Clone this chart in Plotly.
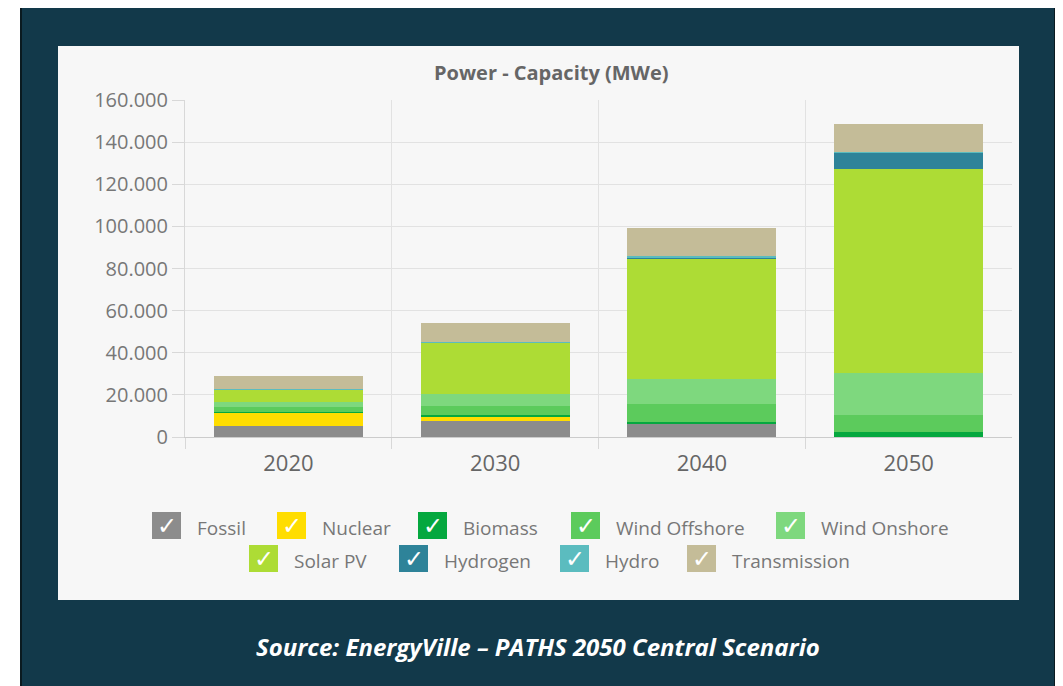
import plotly.graph_objects as go

years = ["2020", "2030", "2040", "2050"]
series_names = ["Fossil", "Nuclear", "Biomass", "Wind Offshore", "Wind Onshore",
                "Solar PV", "Hydrogen", "Hydro", "Transmission"]
fossil = [5400, 7600, 6200, 0]
nuclear = [6000, 2000, 0, 0]
biomass = [500, 800, 1100, 2200]
wind_offshore = [2200, 4300, 8200, 8200]
wind_onshore = [2700, 5600, 12000, 19800]
solar_pv = [5700, 24700, 56900, 96900]
hydrogen = [0, 0, 1000, 8100]
hydro = [100, 100, 600, 100]
transmission = [6600, 9000, 13000, 13300]
series_values = [fossil, nuclear, biomass, wind_offshore, wind_onshore,
                 solar_pv, hydrogen, hydro, transmission]
colors = ["#8c8c8c", "#ffdd00", "#05a83f", "#5ccb5c", "#7ed87e",
          "#addc35", "#2e8399", "#5bbcbf", "#c4bc98"]
y_ticks = [0, 20000, 40000, 60000, 80000, 100000, 120000, 140000, 160000]

x_pos = list(range(len(years)))
boundaries = [i - 0.5 for i in x_pos]

# layout geometry (pixels); page body adds an 8px offset
OFF = 8
IMG_W, IMG_H = 1063, 686
PW, PH = 827, 337
L = 185 - OFF
T = 100 - OFF
R = IMG_W - L - PW
B = IMG_H - T - PH


def px(x):
    return (x - OFF - L) / PW


def py(y):
    return (IMG_H - B - (y - OFF)) / PH


fig = go.Figure()
for name, vals, col in zip(series_names, series_values, colors):
    fig.add_trace(go.Bar(x=x_pos, y=vals, name=name, marker_color=col,
                         marker_line_width=0, showlegend=False))

shapes = [
    # outer dark panel
    dict(type="rect", xref="paper", yref="paper", x0=px(21), x1=px(1055), y0=py(6), y1=py(720),
         fillcolor="#12394a", line=dict(color="#0a1a20", width=2), layer="below"),
    # inner light panel
    dict(type="rect", xref="paper", yref="paper", x0=px(58), x1=px(1019), y0=py(46), y1=py(600),
         fillcolor="#f7f7f7", line=dict(width=0), layer="below"),
]

annotations = [
    dict(text="<b>Power - Capacity (MWe)</b>", xref="paper", yref="paper", x=px(551), y=py(72),
         showarrow=False, font=dict(family="Open Sans", size=20, color="#666666"),
         xanchor="center", yanchor="middle"),
    dict(text="<b><i>Source: EnergyVille – PATHS 2050 Central Scenario</i></b>",
         xref="paper", yref="paper", x=px(538), y=py(646), showarrow=False,
         font=dict(family="Open Sans", size=24, color="#ffffff"),
         xanchor="center", yanchor="middle"),
]

# custom legend
legend_rows = [(526, [152, 277, 418, 571, 776]), (559, [249, 399, 560, 687])]
idx = 0
for cy, xs in legend_rows:
    for bx in xs:
        shapes.append(dict(type="rect", xref="paper", yref="paper",
                           x0=px(bx), x1=px(bx + 29), y0=py(cy - 14), y1=py(cy + 13),
                           fillcolor=colors[idx], line=dict(width=0), layer="above"))
        annotations.append(dict(text="✓", xref="paper", yref="paper", x=px(bx + 14.5), y=py(cy),
                                showarrow=False, xanchor="center", yanchor="middle",
                                font=dict(family="DejaVu Sans", size=24, color="#ffffff")))
        annotations.append(dict(text=series_names[idx], xref="paper", yref="paper",
                                x=px(bx + 43), y=py(cy + 2), showarrow=False,
                                xanchor="left", yanchor="middle",
                                font=dict(family="Open Sans", size=19, color="#777777")))
        idx += 1

fig.update_layout(
    width=IMG_W, height=IMG_H,
    margin=dict(l=L, r=R, t=T, b=B, pad=0),
    paper_bgcolor="#ffffff", plot_bgcolor="rgba(0,0,0,0)",
    barmode="stack", bargap=0.28,
    separators=",.",
    shapes=shapes, annotations=annotations,
    showlegend=False,
    xaxis=dict(range=[-0.5, len(years) - 0.5], tickmode="array", tickvals=x_pos, ticktext=years,
               ticks="", showgrid=False, zeroline=False, ticklabelstandoff=7,
               showline=True, linecolor="#cccccc", linewidth=1,
               minor=dict(tickmode="array", tickvals=boundaries, ticks="outside", ticklen=11,
                          tickcolor="#d8d8d8", showgrid=True, gridcolor="#e2e2e2", gridwidth=1),
               tickfont=dict(family="Open Sans", size=22, color="#666666")),
    yaxis=dict(range=[0, 160000], tickvals=y_ticks, tickformat=",d",
               ticks="outside", ticklen=12, tickcolor="#d8d8d8",
               showgrid=True, gridcolor="#e2e2e2", gridwidth=1, zeroline=False,
               showline=True, linecolor="#d8d8d8", linewidth=1,
               tickfont=dict(family="Open Sans", size=20, color="#777777")),
)

fig.write_html("out.html")
